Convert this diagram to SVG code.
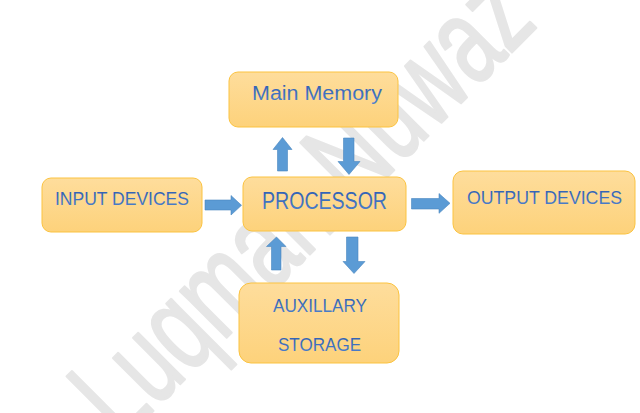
<svg xmlns="http://www.w3.org/2000/svg" width="640" height="413" viewBox="0 0 640 413">
  <defs>
    <linearGradient id="boxFill" x1="0" y1="0" x2="0" y2="1">
      <stop offset="0" stop-color="#fedd9c"/>
      <stop offset="1" stop-color="#fdd27b"/>
    </linearGradient>
    <linearGradient id="txtFill" x1="0" y1="0" x2="0" y2="1">
      <stop offset="0" stop-color="#2c5bb0"/>
      <stop offset="1" stop-color="#4f82cc"/>
    </linearGradient>
    <style>
      .box { fill: url(#boxFill); stroke: #fbc340; stroke-width: 1; }
      .lbl { font-family: "Liberation Sans", Arial, sans-serif; fill: url(#txtFill); text-anchor: middle; }
      .arrow { fill: #5b9bd5; stroke: #4a86c0; stroke-width: 0.6; }
      .wm { font-family: "Liberation Sans", Arial, sans-serif; fill: #e6e6e6; stroke: #e6e6e6; stroke-width: 2.5; stroke-linejoin: round; }
    </style>
  </defs>
  <rect width="640" height="413" fill="#ffffff"/>

  <text class="wm" x="0" y="0" font-size="124" textLength="590" lengthAdjust="spacingAndGlyphs" transform="translate(122,442) rotate(-45)">Luqman Nuwaz</text>

  <g id="main-memory">
    <rect class="box" x="229" y="72" width="169" height="55" rx="9"/>
    <text class="lbl" x="317" y="99.5" font-size="20" textLength="130" lengthAdjust="spacingAndGlyphs">Main Memory</text>
  </g>
  <g id="input-devices">
    <rect class="box" x="42" y="178" width="160" height="54" rx="9"/>
    <text class="lbl" x="122" y="205" font-size="19" textLength="134" lengthAdjust="spacingAndGlyphs">INPUT DEVICES</text>
  </g>
  <g id="processor">
    <rect class="box" x="243" y="177" width="163" height="54" rx="9"/>
    <text class="lbl" x="324.5" y="208.5" font-size="24" textLength="125" lengthAdjust="spacingAndGlyphs">PROCESSOR</text>
  </g>
  <g id="output-devices">
    <rect class="box" x="453" y="171" width="182" height="63" rx="10"/>
    <text class="lbl" x="544.5" y="203.5" font-size="19" textLength="155" lengthAdjust="spacingAndGlyphs">OUTPUT DEVICES</text>
  </g>
  <g id="auxillary-storage">
    <rect class="box" x="239" y="283" width="160" height="80" rx="12"/>
    <text class="lbl" x="320" y="311.5" font-size="19" textLength="94" lengthAdjust="spacingAndGlyphs">AUXILLARY</text>
    <text class="lbl" x="319.5" y="350.5" font-size="19" textLength="83" lengthAdjust="spacingAndGlyphs">STORAGE</text>
  </g>

  <g id="connectors">
    <polygon class="arrow" points="277.5,171 277.5,149.5 273,149.5 282.5,137.5 292,149.5 287.5,149.5 287.5,171"/>
    <polygon class="arrow" points="343.5,138 354,138 354,161.5 360,161.5 349,174.5 338,161.5 343.5,161.5"/>
    <polygon class="arrow" points="205,200 231,200 231,195.5 241.5,205.3 231,215 231,210 205,210"/>
    <polygon class="arrow" points="411.5,198.5 439,198.5 439,193.5 450,203.3 439,213.3 439,209 411.5,209"/>
    <polygon class="arrow" points="271.5,270 271.5,246.5 266.5,246.5 276.5,237 286,246.5 281,246.5 281,270"/>
    <polygon class="arrow" points="346.5,237 358,237 358,261.5 365,261.5 354,273.5 343,261.5 346.5,261.5"/>
  </g>
</svg>
